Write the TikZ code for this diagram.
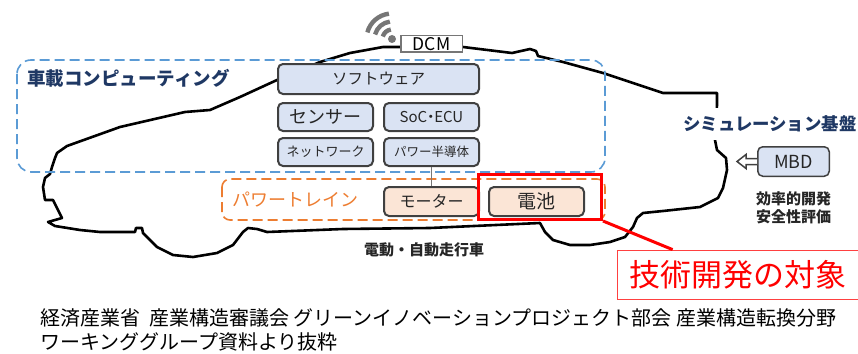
\documentclass[tikz,border=0pt]{standalone}
\usepackage{fontspec}
\setmainfont{Noto Sans CJK JP}
\usepackage{tikz}
\usetikzlibrary{positioning}

\definecolor{compblue}{RGB}{91,155,213}
\definecolor{navy}{RGB}{31,56,100}
\definecolor{partfill}{RGB}{218,227,243}
\definecolor{ptorange}{RGB}{237,125,49}
\definecolor{ptfill}{RGB}{251,229,214}
\definecolor{edge}{RGB}{64,64,64}
\definecolor{signal}{RGB}{118,118,118}
\definecolor{ink}{RGB}{38,38,38}

\newcommand{\fsz}[1]{\fontsize{#1}{#1}\selectfont}

\begin{document}
\begin{tikzpicture}[
		x=1pt, y=-1pt,
		node distance=7pt and 9pt,
		part/.style={rectangle, draw=edge, line width=2pt, rounded corners=5pt, fill=partfill, minimum height=28pt, minimum width=95pt, inner sep=0pt, text centered, text=ink},
		drive/.style={part, fill=ptfill},
		area/.style={dash pattern=on 10pt off 5pt, line width=1.6pt, rounded corners=14pt},
		body/.style={line width=2.6pt, line join=round},
		txt/.style={inner sep=0pt},
		wave/.style={line width=4.4pt, draw=signal}
		]
		\useasboundingbox (0,0) rectangle (858,353);

		% Car body
		\draw[body] (57,153) -- (67,146) -- (120,127) -- (185,112) -- (210,110) -- (240,97) -- (277,80)
			-- (320,62) -- (350,53) -- (383,47) -- (463,47) -- (512,53) -- (530,49) -- (536,51) -- (538,56)
			-- (563,62) -- (603,73) -- (663,93) -- (717,93) -- (717,105) -- (715,140) -- (717,150)
			-- (726,158) -- (727,170) -- (723,188) -- (718,198) -- (700,207) -- (663,211) -- (643,213)
			-- (637,218) -- (633,227) -- (625,237) -- (610,242) -- (590,245) -- (570,245) -- (553,240)
			-- (545,232) -- (540,223) -- (430,228) -- (343,229) -- (267,232) -- (257,229) -- (248,228)
			-- (243,232) -- (233,245) -- (217,253) -- (193,257) -- (173,255) -- (157,247) -- (143,233)
			-- (142,228) -- (136,228) -- (135,232) -- (100,232) -- (80,230) -- (55,226) -- (48,222)
			-- (62,218) -- (53,200) -- (45,200) -- (43,187) -- (45,178) -- (50,174) -- (52,167)
			-- (55,158) -- cycle;

		% Areas
		\draw[area, draw=compblue] (17,60) rectangle (605,172);
		\draw[area, draw=ptorange, rounded corners=8pt] (222,179) rectangle (605,220);
		\node[txt, anchor=west, font=\fsz{18.5}\bfseries, text=navy] (comp) at (27,78) {車載コンピューティング};
		\node[txt, anchor=west, font=\fsz{18}, text=ptorange] (train) at (232,200) {パワートレイン};

		% Nodes
		\node[part, minimum width=201pt, minimum height=30pt, font=\fsz{15.5}] (soft) at (378.5,79) {ソフトウェア};
		\node[part, font=\fsz{18}] (sensor) [below right=7pt and 0pt of soft.south west] {センサー};
		\node[part, font=\fsz{15}] (soc) [right=of sensor] {SoC\kern-4pt・\kern-4pt ECU};
		\node[part, font=\fsz{13}] (net) [below=5pt of sensor] {ネットワーク};
		\node[part, font=\fsz{12.5}] (power) [below=5pt of soc] {パワー半導体};
		\node[drive, minimum height=29pt, font=\fsz{16}] (motor) [below=19pt of power] {モーター};
		\node[drive, minimum height=29pt, font=\fsz{19}] (battery) [right=8pt of motor] {電池};
		\draw[line width=1.5pt, draw=signal] (power) -- (motor);

		% Connectivity
		\node[circle, fill=signal, inner sep=0pt, minimum size=8pt] (wifi) at (392,39) {};
		\foreach \r in {9.5,17.5,25.5}
			\draw[wave] (wifi.center) ++(-97:\r) arc[start angle=-97, end angle=-165, radius=\r];
		\node[rectangle, draw=signal, line width=1.5pt, fill=white, minimum width=61.5pt, minimum height=16.5pt, inner sep=0pt, font=\fsz{17.5}] (dcm) at (431.5,44) {DCM};

		% Simulation side
		\node[txt, anchor=west, fill=white, inner ysep=8pt, font=\fsz{17.4}\bfseries, text=navy] (sim) at (683,124) {シミュレーション基盤};
		\node[part, line width=1.5pt, minimum width=71.5pt, minimum height=29.5pt, font=\fsz{18}] (mbd) at (793.5,161.5) {MBD};
		\draw[line width=1.5pt, draw=edge, fill=white] (mbd.west) ++(0,-3) -- ++(-11,0) -- ++(0,-4)
			-- ++(-9,7) -- ++(9,7) -- ++(0,-4) -- ++(11,0);
		\node[txt, align=center, font=\fontsize{15}{18}\selectfont\bfseries, text=ink] (merit) [below=14pt of mbd] {効率的開発\\安全性評価};
		\node[txt, font=\fsz{15}\bfseries, text=ink] (ev) at (424,250) {電動・自動走行車};

		% Development target
		\node[rectangle, draw=red, line width=3pt, minimum width=123pt, minimum height=45pt] (focus) at (540,197) {};
		\node[rectangle, draw=red!75, line width=0.8pt, minimum width=241pt, minimum height=49pt, inner sep=0pt, font=\fsz{31}, text=red] (goal) at (737.5,274.5) {技術開発の対象};
		\draw[line width=3pt, red] (focus.south east) -- ([xshift=56pt]goal.north west);

		% Source
		\node[txt, anchor=north west, align=left, font=\fontsize{20}{24.5}\selectfont, text=black] (src) at (40,308)
			{経済産業省\ \ 産業構造審議会 グリーンイノベーションプロジェクト部会 産業構造転換分野\\ワーキンググループ資料より抜粋};
	\end{tikzpicture}
\end{document}
